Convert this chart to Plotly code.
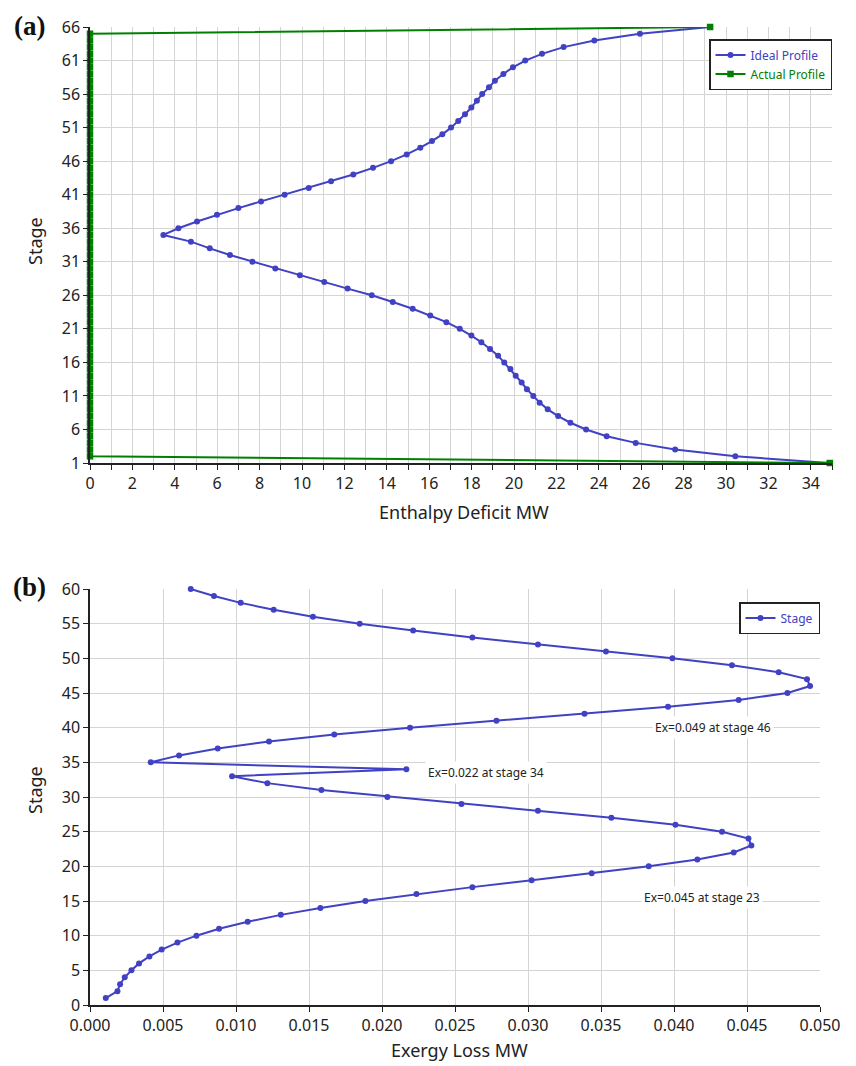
import plotly.graph_objects as go

# ---------------- data ----------------
stages_a = list(range(1, 67))
ideal_deficit = [34.86, 30.44, 27.6, 25.74, 24.37, 23.4, 22.66, 22.08, 21.59, 21.21,
                 20.91, 20.61, 20.36, 20.08, 19.83, 19.54, 19.25, 18.87, 18.46, 17.99,
                 17.44, 16.81, 16.05, 15.22, 14.28, 13.29, 12.15, 11.05, 9.9, 8.74,
                 7.66, 6.6, 5.65, 4.76, 3.46, 4.17, 5.05, 5.99, 7.0, 8.07,
                 9.18, 10.32, 11.37, 12.42, 13.35, 14.2, 14.94, 15.58, 16.13, 16.62,
                 17.03, 17.37, 17.69, 17.99, 18.25, 18.5, 18.82, 19.1, 19.5, 19.95,
                 20.53, 21.32, 22.34, 23.79, 25.94, 29.25]
actual_deficit = [34.9] + [0.0] * 64 + [29.25]

stages_b = list(range(1, 61))
exergy_loss = [0.00108, 0.00188, 0.00206, 0.00238, 0.00284, 0.00336, 0.00407, 0.00491, 0.00599, 0.00729,
               0.00884, 0.0108, 0.01307, 0.01578, 0.01886, 0.02236, 0.02619, 0.03025, 0.03436, 0.03827,
               0.0416, 0.04409, 0.0453, 0.0451, 0.04329, 0.0401, 0.03571, 0.03068, 0.02544, 0.02037,
               0.01585, 0.01215, 0.00973, 0.02167, 0.00416, 0.0061, 0.00875, 0.01226, 0.01673, 0.02192,
               0.02784, 0.03387, 0.03959, 0.04443, 0.04777, 0.04932, 0.04911, 0.04717, 0.04397, 0.03989,
               0.03534, 0.03068, 0.02619, 0.02213, 0.01847, 0.01527, 0.01258, 0.01032, 0.00849, 0.0069]

annot_x = [0.0427, 0.0271, 0.0419]
annot_y = [40.0, 33.6, 15.5]
annot_text = ["Ex=0.049 at stage 46", "Ex=0.022 at stage 34", "Ex=0.045 at stage 23"]

# ---------------- style ----------------
W, H = 856, 1066
BLUE = "#4141c4"
GREEN = "#008000"
GRID = "#d4d4d4"
FONT = "Noto Sans"

fig = go.Figure()

fig.add_trace(go.Scatter(
    x=ideal_deficit, y=stages_a, mode="lines+markers", name="Ideal Profile",
    line=dict(color=BLUE, width=2), marker=dict(color=BLUE, size=6, symbol="circle"),
    xaxis="x", yaxis="y", legend="legend", cliponaxis=False))
fig.add_trace(go.Scatter(
    x=actual_deficit, y=stages_a, mode="lines+markers", name="Actual Profile",
    line=dict(color=GREEN, width=2), marker=dict(color=GREEN, size=6.5, symbol="square"),
    xaxis="x", yaxis="y", legend="legend", cliponaxis=False))
fig.add_trace(go.Scatter(
    x=exergy_loss, y=stages_b, mode="lines+markers", name="Stage",
    line=dict(color=BLUE, width=2), marker=dict(color=BLUE, size=6, symbol="circle"),
    xaxis="x2", yaxis="y2", legend="legend2", cliponaxis=False))

tickfont = dict(family=FONT, size=16, color="#222")
titlefont = dict(family=FONT, size=18, color="#222")

common = dict(showline=True, linecolor="#222", linewidth=1.5, ticks="outside",
              ticklen=5, tickcolor="#222", showgrid=True, gridcolor=GRID, gridwidth=1.3,
              zeroline=False, tickfont=tickfont, mirror=False, automargin=False)

fig.update_layout(
    width=W, height=H, margin=dict(l=0, r=0, t=0, b=0),
    plot_bgcolor="white", paper_bgcolor="white",
    xaxis=dict(domain=[90 / W, 832 / W], anchor="y", range=[0, 35], tick0=0, dtick=2,
               minor=dict(dtick=1, ticks="outside", ticklen=5, tickcolor="#222",
                          showgrid=True, gridcolor=GRID, gridwidth=1.3), **common),
    yaxis=dict(domain=[1 - 463 / H, 1 - 27 / H], anchor="x", range=[1, 66], tick0=1, dtick=5,
               **common),
    xaxis2=dict(domain=[90 / W, 820 / W], anchor="y2", range=[0, 0.05], tick0=0, dtick=0.005,
                tickformat=".3f", **common),
    yaxis2=dict(domain=[1 - 1005 / H, 1 - 589 / H], anchor="x2", range=[0, 60], tick0=0, dtick=5,
                **common),
    legend=dict(x=832 / W, xanchor="right", y=1 - 39 / H, yanchor="top",
                bordercolor="#222", borderwidth=1.5, bgcolor="white",
                font=dict(family=FONT, size=12), itemwidth=30, tracegroupgap=0),
    legend2=dict(x=820 / W, xanchor="right", y=1 - 602 / H, yanchor="top",
                 bordercolor="#222", borderwidth=1.5, bgcolor="white",
                 font=dict(family=FONT, size=12, color=BLUE), itemwidth=30),
    showlegend=True,
)

# colour the legend labels like the series
fig.data[0].name = f"<span style='color:{BLUE}'>Ideal Profile</span>"
fig.data[1].name = f"<span style='color:{GREEN}'>Actual Profile</span>"

for ax_, ay_, t_ in zip(annot_x, annot_y, annot_text):
    fig.add_annotation(x=ax_, y=ay_, xref="x2", yref="y2", text=t_, showarrow=False,
                       font=dict(family=FONT, size=12, color="#222"), bgcolor="white",
                       borderpad=2)

# axis titles (placed in paper coordinates)
axis_titles = [("Stage", 35, 241, -90), ("Enthalpy Deficit MW", 464, 512, 0),
               ("Stage", 35, 790, -90), ("Exergy Loss MW", 459, 1050, 0)]
for t_, px, py, ang in axis_titles:
    fig.add_annotation(x=px / W, y=1 - py / H, xref="paper", yref="paper", text=t_,
                       showarrow=False, textangle=ang, font=titlefont,
                       xanchor="center", yanchor="middle")

fig.add_annotation(x=29.5 / W, y=1 - 26 / H, xref="paper", yref="paper", text="<b>(a)</b>",
                   showarrow=False, font=dict(family="Liberation Serif", size=27, color="#111"),
                   xanchor="center", yanchor="middle")
fig.add_annotation(x=29.5 / W, y=1 - 587 / H, xref="paper", yref="paper", text="<b>(b)</b>",
                   showarrow=False, font=dict(family="Liberation Serif", size=27, color="#111"),
                   xanchor="center", yanchor="middle")

fig.write_html("out.html", config={"displayModeBar": False},
               post_script="document.body.style.margin='0px';document.body.style.overflow='hidden';")
